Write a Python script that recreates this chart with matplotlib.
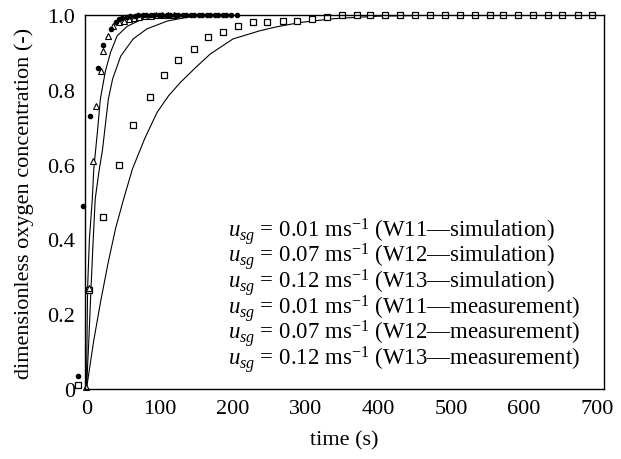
import numpy as np
import matplotlib
matplotlib.use("Agg")
import matplotlib.pyplot as plt

# simulation curves (time s, dimensionless concentration)
w11_sim_t = [0, 10, 20, 30, 40, 51, 63, 80, 97, 113, 129, 150, 170, 201, 238, 260, 293, 338, 400, 500, 700]
w11_sim_y = [0, 0.13, 0.24, 0.34, 0.43, 0.508, 0.588, 0.67, 0.74, 0.785, 0.82, 0.86, 0.896, 0.936, 0.958,
             0.968, 0.98, 0.99, 0.997, 1.0, 1.0]

w12_sim_t = [0, 3, 6, 9, 12, 17, 22, 30, 36, 47, 64, 83, 111, 147, 200, 700]
w12_sim_y = [0, 0.12, 0.26, 0.39, 0.508, 0.58, 0.64, 0.775, 0.83, 0.89, 0.936, 0.963, 0.984, 0.997, 1.0, 1.0]

w13_sim_t = [0, 1.5, 4, 8, 10, 15, 19, 26, 33, 42, 56, 83, 120, 700]
w13_sim_y = [0, 0.267, 0.4, 0.508, 0.588, 0.687, 0.775, 0.85, 0.90, 0.944, 0.97, 0.995, 1.0, 1.0]

# measurements
w11_t = [-12, 3, 23, 44, 64, 87, 107, 126, 147, 167, 187, 208, 228, 248, 270, 289, 310, 330, 351, 371,
         389, 410, 430, 451, 471, 492, 512, 533, 553, 571, 592, 612, 633, 653, 674, 693]
w11_y = [0.01, 0.265, 0.46, 0.60, 0.706, 0.78, 0.84, 0.88, 0.91, 0.94, 0.955, 0.97, 0.98, 0.98, 0.985,
         0.985, 0.99, 0.995, 1.0, 1.0, 1.0, 1.0, 1.0, 1.0, 1.0, 1.0, 1.0, 1.0, 1.0, 1.0, 1.0, 1.0, 1.0,
         1.0, 1.0, 1.0]

w12_t = [0, 3, 9.6, 13.7, 20.5, 23, 30, 37, 44, 51, 58, 65, 72, 80, 88, 96, 104, 112, 120]
w12_y = [0.005, 0.27, 0.61, 0.757, 0.85, 0.905, 0.944, 0.97, 0.98, 0.985, 0.99, 0.993, 0.995, 0.997,
         0.998, 1.0, 1.0, 1.0, 1.0]

w13_t = [-12, -5, 5.5, 16.4, 23, 33, 40, 44, 49, 55, 60, 66, 71, 77, 82, 88, 93, 99, 104, 110, 115, 121,
         126, 132, 137, 143, 148, 154, 159, 165, 170, 176, 181, 187, 192, 198, 207]
w13_y = [0.035, 0.49, 0.73, 0.858, 0.92, 0.963, 0.98, 0.99, 0.993, 0.995, 0.997, 0.998, 1.0, 1.0, 1.0,
         1.0, 1.0, 1.0, 1.0, 1.0, 1.0, 1.0, 1.0, 1.0, 1.0, 1.0, 1.0, 1.0, 1.0, 1.0, 1.0, 1.0, 1.0, 1.0,
         1.0, 1.0, 1.0]

legend_lines = [
    r"$u_{sg}$ = 0.01 ms$^{-1}$ (W11—simulation)",
    r"$u_{sg}$ = 0.07 ms$^{-1}$ (W12—simulation)",
    r"$u_{sg}$ = 0.12 ms$^{-1}$ (W13—simulation)",
    r"$u_{sg}$ = 0.01 ms$^{-1}$ (W11—measurement)",
    r"$u_{sg}$ = 0.07 ms$^{-1}$ (W12—measurement)",
    r"$u_{sg}$ = 0.12 ms$^{-1}$ (W13—measurement)",
]

plt.rcParams.update({
    "font.family": "Liberation Serif",
    "mathtext.fontset": "custom",
    "mathtext.rm": "Liberation Serif",
    "mathtext.it": "Liberation Serif:italic",
    "mathtext.bf": "Liberation Serif:bold",
})

fig = plt.figure(figsize=(6.21, 4.6), dpi=100)
ax = fig.add_axes([0.1369, 0.1522, 0.8357, 0.813])

for t, y in [(w11_sim_t, w11_sim_y), (w12_sim_t, w12_sim_y), (w13_sim_t, w13_sim_y)]:
    ax.plot(t, y, color="black", lw=0.8)

ax.plot(w11_t, w11_y, ls="none", marker="s", ms=4.5, mfc="white", mec="black", mew=0.9, clip_on=False)
ax.plot(w12_t, w12_y, ls="none", marker="^", ms=5, mfc="white", mec="black", mew=0.8, clip_on=False)
ax.plot(w13_t, w13_y, ls="none", marker="o", ms=3.0, mfc="black", mec="black", clip_on=False)

ax.set_xlim(-2, 710)
ax.set_ylim(0, 1.0)
ax.set_xticks([0, 100, 200, 300, 400, 500, 600, 700])
ax.set_yticks([0, 0.2, 0.4, 0.6, 0.8, 1.0])
ax.set_yticklabels(["0", "0.2", "0.4", "0.6", "0.8", "1.0"])
ax.tick_params(length=0, labelsize=16, pad=7)
for s in ax.spines.values():
    s.set_linewidth(1.0)

ax.set_xlabel("time (s)", fontsize=16, labelpad=9)
ax.set_ylabel("dimensionless oxygen concentration (-)", fontsize=16, labelpad=10)

ax.text(0.2755, 0.433 + 0.0332, "\n".join(legend_lines), transform=ax.transAxes, fontsize=16.5,
        va="top", ha="left", linespacing=0.75)

fig.savefig("out.png", dpi=100)
